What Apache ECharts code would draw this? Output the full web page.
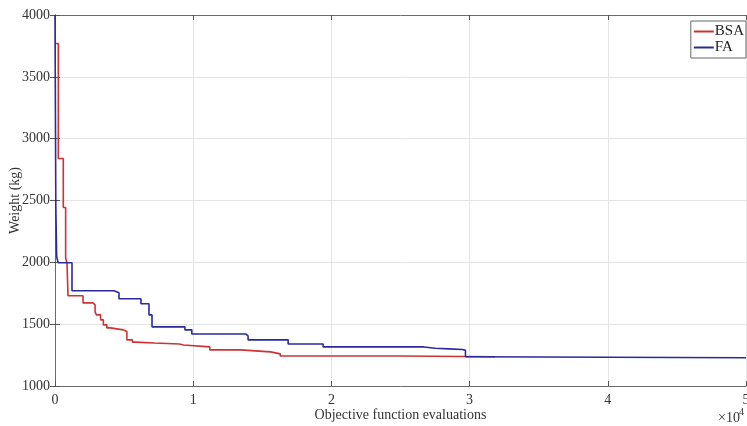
<!DOCTYPE html>
<html><head><meta charset="utf-8">
<script src="https://cdn.jsdelivr.net/npm/echarts@6/dist/echarts.min.js"></script>
<style>html,body{margin:0;padding:0;background:#fff}#c{width:747px;height:426px}</style>
</head><body><div id="c"></div>
<script>
// BSA (red) best-so-far: [evaluations, weight]
const bsaEvals = [0, 240, 600, 770, 870, 940, 2030, 2750, 2900, 3000, 3300, 3500, 3750, 4000, 4950, 5200, 5600, 5800, 7200, 9000, 9300, 11200, 13400, 15600, 16300, 25000, 31840];
const bsaWeight = [3770, 2840, 2443, 2037, 1990, 1730, 1672, 1656, 1600, 1575, 1535, 1494, 1470, 1454, 1440, 1373, 1355, 1348, 1340, 1332, 1316, 1292, 1276, 1260, 1243, 1236, 1232];
// FA (blue)
const faEvals = [0, 60, 120, 230, 1230, 4270, 4630, 6220, 6800, 7020, 9400, 9900, 13800, 13970, 16870, 19400, 26700, 27500, 28500, 29500, 29700, 30000, 50000];
const faWeight = [4000, 2443, 2045, 1997, 1770, 1755, 1705, 1665, 1575, 1478, 1454, 1421, 1405, 1373, 1340, 1316, 1305, 1300, 1295, 1288, 1237, 1228, 1228];
const xTicks = [0, 10000, 20000, 30000, 40000, 50000];
const yTicks = [1000, 1500, 2000, 2500, 3000, 3500, 4000];
const seriesNames = ['BSA', 'FA'];

const FONT = "'Liberation Serif', 'Times New Roman', serif";
const zip = (a, b) => a.map((v, i) => [v, b[i]]);
const chart = echarts.init(document.getElementById('c'), null, {renderer: 'canvas'});
const axisLine = {show: true, lineStyle: {color: '#6b6b6b', width: 1}};
chart.setOption({
  animation: false,
  backgroundColor: '#fff',
  grid: {left: 55, right: 1, top: 15, bottom: 40, containLabel: false, outerBoundsMode: 'none'},
  legend: {
    right: 1, top: 21, orient: 'vertical',
    data: seriesNames,
    icon: 'rect', itemWidth: 20, itemHeight: 2, itemGap: 1,
    padding: [3, 2, 3, 3],
    borderColor: '#666', borderWidth: 1, backgroundColor: '#fff',
    textStyle: {fontFamily: FONT, fontSize: 15, color: '#222', padding: [0, 0, 0, -4]}
  },
  xAxis: [{
    type: 'value', min: xTicks[0], max: xTicks[xTicks.length - 1], interval: 10000,
    axisLine: axisLine,
    axisTick: {show: true, inside: true, length: 5, lineStyle: {color: '#555'}},
    axisLabel: {fontFamily: FONT, fontSize: 14, color: '#333', margin: 7, formatter: v => String(v / 10000)},
    splitLine: {show: true, lineStyle: {color: '#e4e4e4', width: 1}},
    name: 'Objective function evaluations', nameLocation: 'middle', nameGap: 22, nameMoveOverlap: false,
    nameTextStyle: {fontFamily: FONT, fontSize: 14, color: '#333'}
  }, {
    type: 'value', position: 'top', min: xTicks[0], max: xTicks[xTicks.length - 1], interval: 10000,
    axisLine: axisLine,
    axisTick: {show: true, inside: true, length: 5, lineStyle: {color: '#555'}},
    axisLabel: {show: false}, splitLine: {show: false}
  }],
  yAxis: [{
    type: 'value', min: yTicks[0], max: yTicks[yTicks.length - 1], interval: 500,
    axisLine: axisLine,
    axisTick: {show: true, inside: true, length: 5, lineStyle: {color: '#555'}},
    axisLabel: {fontFamily: FONT, fontSize: 14, color: '#333', margin: 5, formatter: v => String(v)},
    splitLine: {show: true, lineStyle: {color: '#e4e4e4', width: 1}},
    name: 'Weight (kg)', nameLocation: 'middle', nameGap: 33, nameRotate: 90, nameMoveOverlap: false,
    nameTextStyle: {fontFamily: FONT, fontSize: 14, color: '#333'}
  }, {
    type: 'value', position: 'right', min: yTicks[0], max: yTicks[yTicks.length - 1], interval: 500,
    axisLine: axisLine,
    axisTick: {show: true, inside: true, length: 5, lineStyle: {color: '#555'}},
    axisLabel: {show: false}, splitLine: {show: false}
  }],
  series: [{
    name: seriesNames[0], type: 'line', step: 'end', showSymbol: false, symbol: 'none',
    data: zip(bsaEvals, bsaWeight), color: '#cc3434',
    lineStyle: {width: 1.6, color: '#cc3434'}, z: 3
  }, {
    name: seriesNames[1], type: 'line', step: 'end', showSymbol: false, symbol: 'none',
    data: zip(faEvals, faWeight), color: '#2a2a9e',
    lineStyle: {width: 1.6, color: '#2a2a9e'}, z: 4
  }],
  graphic: [
    {type: 'text', left: 718, top: 411, style: {text: '×10', font: "14px " + FONT, fill: '#333'}},
    {type: 'text', left: 739, top: 407, style: {text: '4', font: "10px " + FONT, fill: '#333'}}
  ]
});
</script></body></html>
